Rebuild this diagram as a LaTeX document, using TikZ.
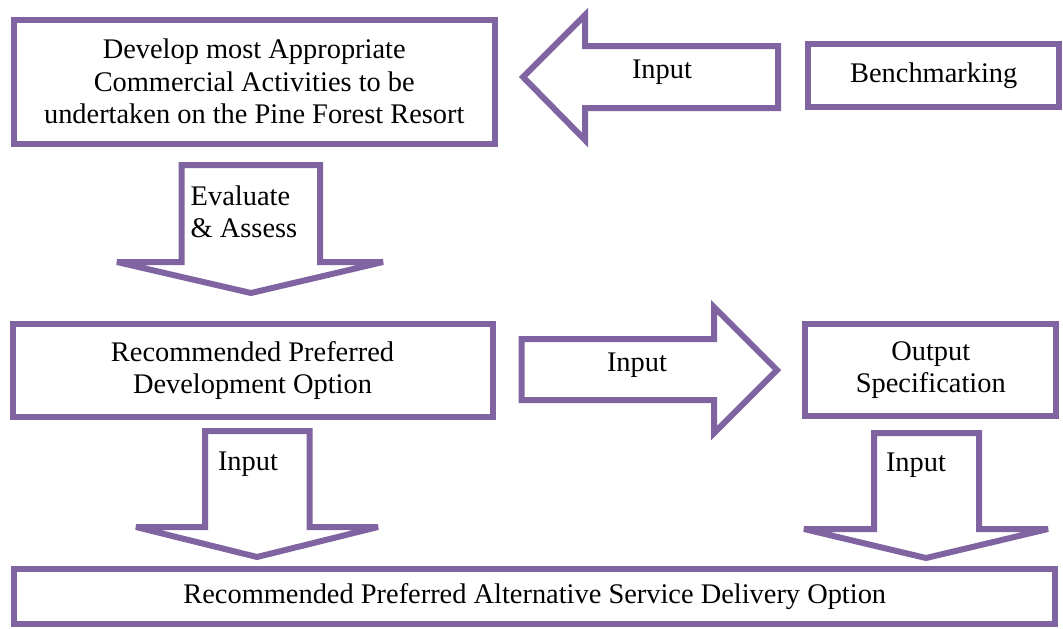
\documentclass[tikz,border=0pt]{standalone}
\usepackage{fontspec}
\setmainfont{Liberation Serif}
\definecolor{violet}{HTML}{8064A2}

\begin{document}
\begin{tikzpicture}[x=0.75pt,y=-0.75pt,
  box/.style={draw=violet, line width=4.5pt, rectangle, align=center, inner sep=0pt},
  shaft/.style={draw=violet, line width=4.5pt, line join=miter, miter limit=3, fill=white},
  lbl/.style={inner sep=0pt, align=center},
  every node/.style={font=\fontsize{21.3}{24.4}\selectfont}]
\useasboundingbox (0,0) rectangle (1063,628);

\node[box, minimum width=360.4pt, minimum height=93pt] (dev) at (254.25,81.5)
  {Develop most Appropriate\\Commercial Activities to be\\undertaken on the Pine Forest Resort};
\node[box, minimum width=187.9pt, minimum height=47.3pt] (bench) at (933.75,75.5) {Benchmarking};
\node[box, minimum width=360pt, minimum height=69.8pt] (rec) at (252.5,370.5)
  {Recommended Preferred\\Development Option};
\node[box, minimum width=187.9pt, minimum height=69pt] (out) at (930.75,370)
  {Output\\Specification};
\node[box, minimum width=780.4pt, minimum height=41.6pt] (alt) at (534.75,596.75)
  {Recommended Preferred Alternative Service Delivery Option};

% arrow from benchmarking
\draw[shaft] (778,46) -- (585,46) -- (585,15) -- (523,77) -- (585,140) -- (585,108) -- (778,108) -- cycle;
\node[lbl] (in1) at (662,72) {Input};

% evaluate arrow
\draw[shaft] (181.5,165) -- (320,165) -- (320,262) -- (383,262) -- (251,293) -- (117,262) -- (181.5,262) -- cycle;
\node[lbl, align=left] (eval) at (244,212) {Evaluate\\\& Assess};

% arrow to output specification
\draw[shaft] (521.5,339) -- (714,339) -- (714,307) -- (777,370) -- (714,433) -- (714,400) -- (521.5,400) -- cycle;
\node[lbl] (in2) at (637,365) {Input};

% down arrows into the last box
\draw[shaft] (205,431) -- (309.5,431) -- (309.5,527) -- (378,527) -- (257,557) -- (136,527) -- (205,527) -- cycle;
\node[lbl] (in3) at (248,464) {Input};
\draw[shaft] (874,433) -- (979,433) -- (979,529) -- (1048,529) -- (926,558) -- (804,529) -- (874,529) -- cycle;
\node[lbl] (in4) at (916,465) {Input};
\end{tikzpicture}
\end{document}
